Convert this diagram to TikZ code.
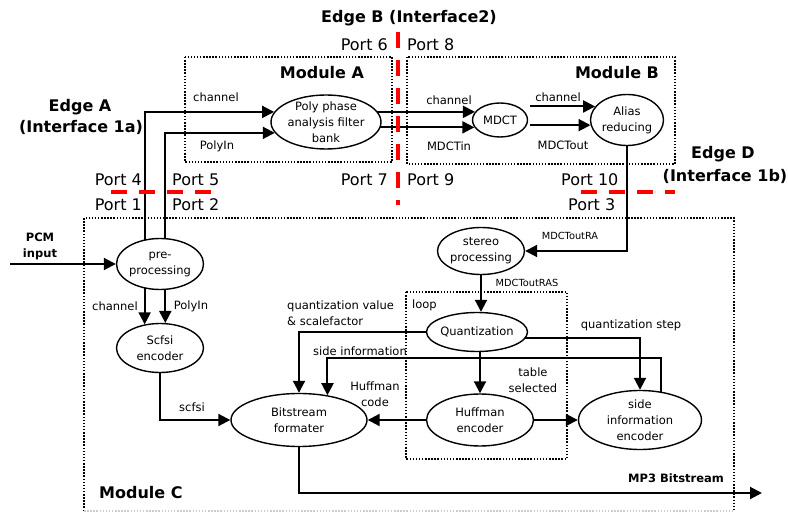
\documentclass[tikz,border=0pt]{standalone}
\usepackage{fontspec}
\setmainfont{DejaVu Sans}
\usetikzlibrary{arrows.meta,shapes.geometric,calc}
\pgfdeclarelayer{bg}
\pgfsetlayers{bg,main}
\tikzset{
  ell/.style={ellipse, draw, line width=1.4pt, fill=white, inner sep=0pt},
  etxt/.style={font=\fontsize{11.5}{16}\selectfont, align=center, inner sep=0pt},
  lbl/.style={font=\fontsize{11.5}{16}\selectfont, align=center, inner sep=0pt},
  tiny/.style={font=\fontsize{9.8}{12}\selectfont, inner sep=0pt},
  port/.style={font=\fontsize{16}{19}\selectfont, inner sep=0pt},
  title/.style={font=\bfseries\fontsize{16}{20}\selectfont, inner sep=0pt, align=center},
  arr/.style={line width=2pt, -{Triangle[length=12pt,width=12pt]}},
  dotbox/.style={line width=1.5pt, dash pattern=on 1.5pt off 1.6pt},
  cut/.style={red, line width=4pt, dash pattern=on 16pt off 12pt},
}
\begin{document}
\begin{tikzpicture}[x=1pt, y=-1pt]
\useasboundingbox (0,0) rectangle (788,513);

% ---------- processing blocks ----------
\node[ell, minimum width=110pt, minimum height=54pt] (poly) at (326,122) {};
\node[etxt] (polyT) at (poly) {Poly phase\\analysis filter\\bank};
\node[ell, minimum width=55pt, minimum height=34pt] (mdct) at (500,120) {};
\node[etxt] (mdctT) at (mdct) {MDCT};
\node[ell, minimum width=73pt, minimum height=51pt] (alias) at (627,120) {};
\node[etxt] (aliasT) at (alias) {Alias\\reducing};
\node[ell, minimum width=87pt, minimum height=51pt] (pre) at (160,264) {};
\node[etxt] (preT) at (pre) {pre-\\processing};
\node[ell, minimum width=87pt, minimum height=49pt] (scfsi) at (160,348) {};
\node[etxt] (scfsiT) at (scfsi) {Scfsi\\encoder};
\node[ell, minimum width=87pt, minimum height=47pt] (stereo) at (481,251) {};
\node[etxt] (stereoT) at (stereo) {stereo\\processing};
\node[ell, minimum width=101pt, minimum height=39pt] (quant) at (477,332) {};
\node[etxt] (quantT) at (quant) {Quantization};
\node[ell, minimum width=107pt, minimum height=52pt] (huff) at (480,420) {};
\node[etxt] (huffT) at (huff) {Huffman\\encoder};
\node[ell, minimum width=123pt, minimum height=59pt] (side) at (640,420) {};
\node[etxt] (sideT) at (side) {side\\information\\encoder};
\node[ell, minimum width=136pt, minimum height=53pt] (bits) at (299,420) {};
\node[etxt] (bitsT) at (bits) {Bitstream\\formater};

\coordinate (pcmin) at (10,264);
\coordinate (mp3out) at (762,493);
\coordinate (sideY) at (0,358);
\coordinate (mo) at ([xshift=2pt]mdct.east);

% ---------- module frames and connectors ----------
\begin{pgfonlayer}{bg}
  \draw[dotbox] (185,57) rectangle (392,162);
  \draw[dotbox] (407,57) rectangle (675,164);
  \draw[dotbox] (84,511) |- (734,218) -- (734,511);
  \draw[dotbox, black!20] (84,511) -- (734,511);
  \draw[dotbox] (406,292) rectangle (567,459);

  \draw[arr] (pcmin) -- (pre);
  \draw[arr] (pre.center -| scfsi.123) |- (poly.169);
  \draw[arr] (pre.center -| scfsi.78) |- (poly.192);
  \draw[arr] (pre.center -| scfsi.123) -- (scfsi.123);
  \draw[arr] (pre.center -| scfsi.78) -- (scfsi.78);
  \draw[arr] (poly.center |- mdct.162) -- (mdct.162);
  \draw[arr] (poly.center |- mdct.196) -- (mdct.196);
  \draw[arr] (mo |- alias.157) -- (alias.157);
  \draw[arr] (mo |- alias.188) -- (alias.188);
  \draw[arr] (alias.center) |- (stereo.east);
  \draw[arr] (stereo.center) -- (stereo.center |- quant.north);
  \draw[arr] (quant.center -| huff.north) -- (huff.north);
  \draw[arr] ([yshift=-6pt]quant.center) -| (side.north);
  \draw[arr] (quant.center) -| (bits.north);
  \draw[arr] ([xshift=21pt]side.center) |- (bits.41 |- sideY) -- (bits.41);
  \draw[arr] (huff) -- (side);
  \draw[arr] (huff) -- (bits);
  \draw[arr] (scfsi.center) |- (bits.west);
  \draw[arr] (bits.center) |- (mp3out);
\end{pgfonlayer}

% ---------- signal labels ----------
\node[lbl] (lChA) at (216,97) {channel};
\node[lbl] (lPolyA) at (217,146) {PolyIn};
\node[lbl] (lChB1) at (449,100) {channel};
\node[lbl] (lMin) at (449,146) {MDCTin};
\node[lbl] (lChB2) at (558,97) {channel};
\node[lbl] (lMout) at (563,145) {MDCTout};
\node[tiny] (lRA) at (570,236) {MDCToutRA};
\node[tiny] (lRAS) at (527,283) {MDCToutRAS};
\node[lbl, anchor=west] (lLoop) at (412,305) {loop};
\node[lbl, anchor=west, align=left] (lQv) at (287,313) {quantization value\\\& scalefactor};
\node[lbl] (lSide) at (360,351) {side information};
\node[lbl] (lQs) at (631,325) {quantization step};
\node[lbl] (lTab) at (533,380) {table\\selected};
\node[lbl] (lHc) at (375,394) {Huffman\\code};
\node[lbl] (lScfsi) at (192,407) {scfsi};
\node[lbl] (lChC) at (115,306) {channel};
\node[lbl] (lPolyC) at (191,306) {PolyIn};
\node[title, font=\bfseries\fontsize{11.5}{16}\selectfont] (pcm) at (40,246) {PCM\\input};
\node[title, font=\bfseries\fontsize{11.5}{14}\selectfont] (mp3) at (676,478) {MP3 Bitstream};

% ---------- module titles ----------
\node[title] (modA) at (322,73) {Module A};
\node[title] (modB) at (617,73) {Module B};
\node[title, anchor=west] (modC) at (99,493) {Module C};

% ---------- edges and ports ----------
\node[title] (edgeB) at (409,18) {Edge B (Interface2)};
\node[title] (edgeA1) at (80,107) {Edge A};
\node[title] (edgeA2) at (81,127) {(Interface 1a)};
\node[title] (edgeD1) at (723,154) {Edge D};
\node[title] (edgeD2) at (725,176) {(Interface 1b)};

\node[port, anchor=east] (p6) at (388,45) {Port 6};
\node[port, anchor=west] (p8) at (407,45) {Port 8};
\node[port, anchor=east] (p7) at (388,180) {Port 7};
\node[port, anchor=west] (p9) at (407,180) {Port 9};
\node[port, anchor=east] (p4) at (142,180) {Port 4};
\node[port, anchor=west] (p5) at (172,180) {Port 5};
\node[port, anchor=east] (p1) at (142,205) {Port 1};
\node[port, anchor=west] (p2) at (172,205) {Port 2};
\node[port, anchor=west] (p10) at (561,180) {Port 10};
\node[port, anchor=west] (p3) at (568,205) {Port 3};

\draw[cut] (398,32) -- (398,205);
\draw[cut] (111,192) -- (211,192);
\draw[cut] (581,192) -- (675,192);
\end{tikzpicture}
\end{document}
